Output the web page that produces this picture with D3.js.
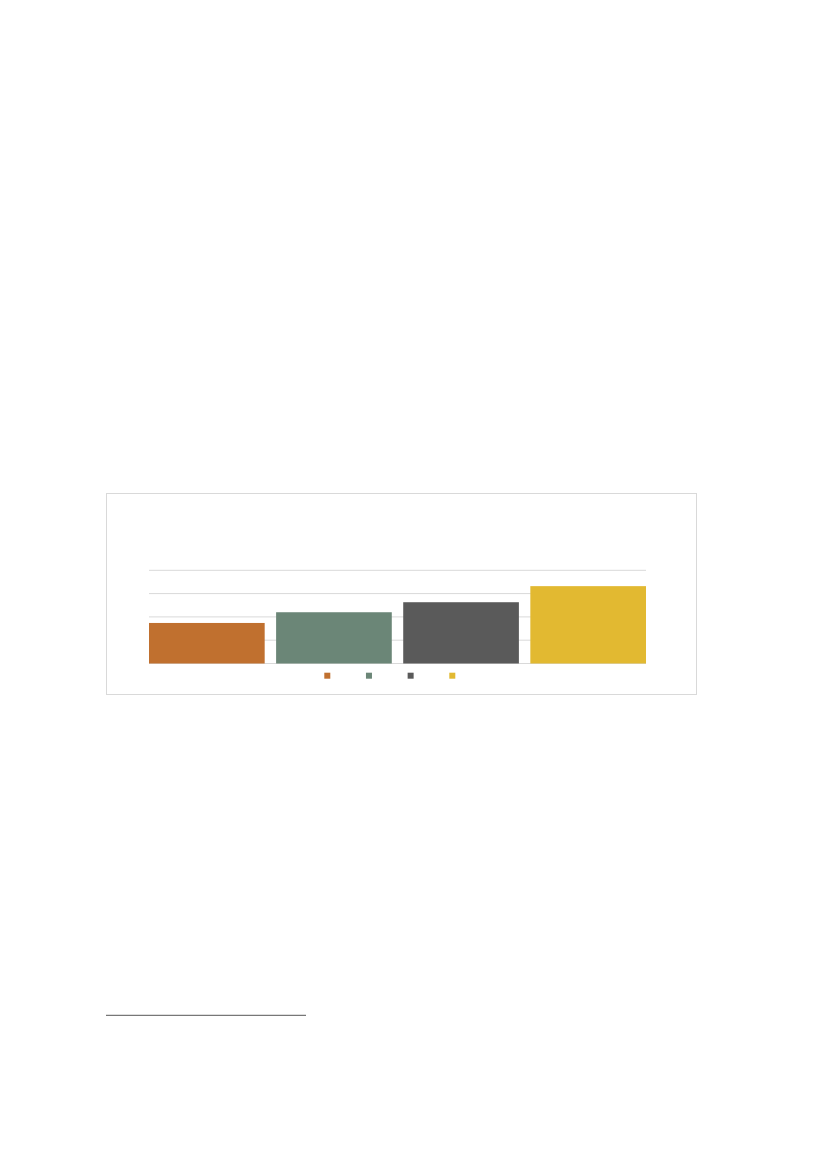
<!DOCTYPE html>
<html>
<head>
<meta charset="utf-8">
<script src="https://cdn.jsdelivr.net/npm/d3@7"></script>
<style>
  body { margin: 0; background: #fff; }
</style>
</head>
<body>
<div id="page"></div>
<script>
// chart data (no visible labels in the picture, values read off the gridlines)
var categories = ["A", "B", "C", "D"];
var values = [1.74, 2.2, 2.63, 3.32];
var colors = ["#c0702f", "#6b8677", "#5a5a5a", "#e2b931"];
var yTicks = [0, 1, 2, 3, 4];

var svg = d3.select("#page").append("svg")
  .attr("width", 827)
  .attr("height", 1169);

// chart frame
svg.append("rect")
  .attr("x", 106.5).attr("y", 493.5)
  .attr("width", 590).attr("height", 201)
  .attr("fill", "#fff")
  .attr("stroke", "#d9d9d9")
  .attr("stroke-width", 1);

var plot = { left: 149, right: 646, top: 570.3, bottom: 663.5 };

var x = d3.scaleBand()
  .domain(categories)
  .range([plot.left, plot.right])
  .paddingInner(0.09)
  .paddingOuter(0);

var y = d3.scaleLinear()
  .domain([0, 4])
  .range([plot.bottom, plot.top]);

// gridlines
svg.append("g").selectAll("line")
  .data(yTicks)
  .enter().append("line")
  .attr("x1", plot.left).attr("x2", plot.right)
  .attr("y1", d => y(d)).attr("y2", d => y(d))
  .attr("stroke", "#d9d9d9")
  .attr("stroke-width", 1);

// bars
svg.append("g").selectAll("rect")
  .data(values)
  .enter().append("rect")
  .attr("x", (d, i) => x(categories[i]))
  .attr("y", d => y(d))
  .attr("width", x.bandwidth())
  .attr("height", d => y(0) - y(d))
  .attr("fill", (d, i) => colors[i]);

// legend swatches
var legendX = d3.scalePoint()
  .domain(categories)
  .range([327.3, 452.3]);

svg.append("g").selectAll("rect")
  .data(categories)
  .enter().append("rect")
  .attr("x", d => legendX(d) - 3)
  .attr("y", 672.7)
  .attr("width", 6)
  .attr("height", 6)
  .attr("fill", (d, i) => colors[i]);

// footnote rule
svg.append("line")
  .attr("x1", 106).attr("x2", 306)
  .attr("y1", 1015.3).attr("y2", 1015.3)
  .attr("stroke", "#555")
  .attr("stroke-width", 1);
</script>
</body>
</html>
